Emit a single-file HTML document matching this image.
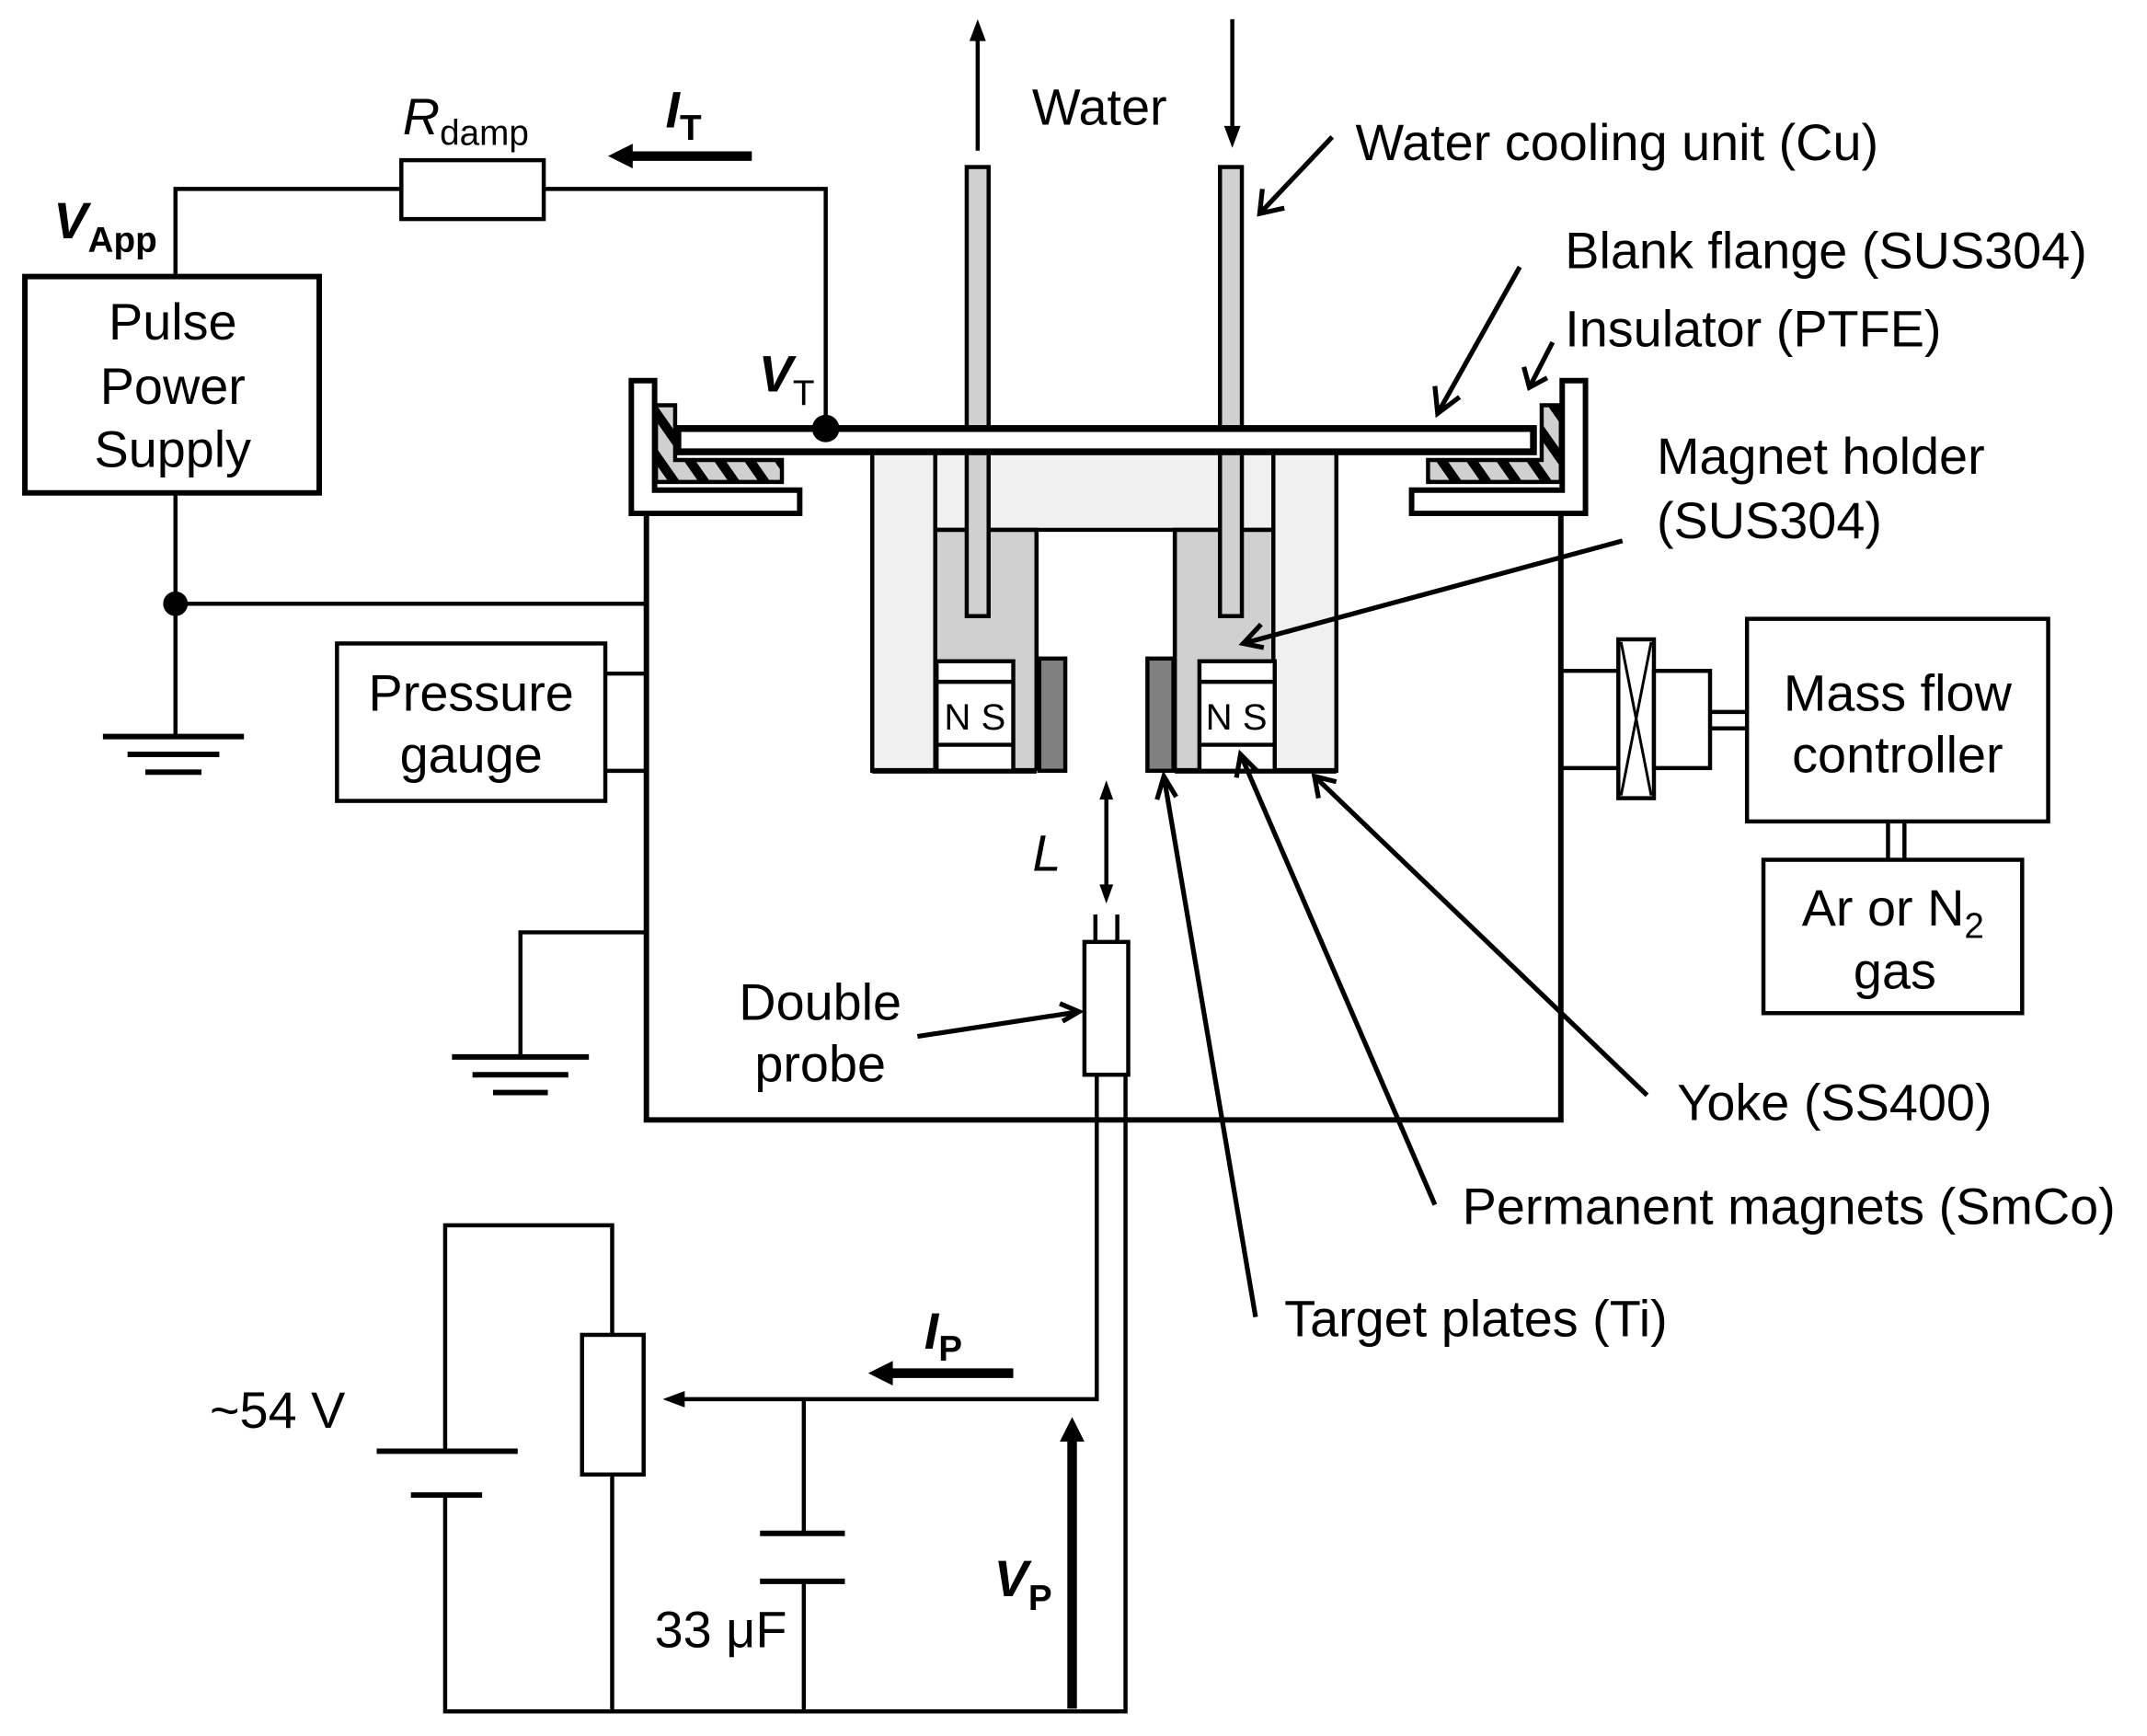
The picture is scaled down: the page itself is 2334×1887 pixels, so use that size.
<!DOCTYPE html>
<html><head><meta charset="utf-8"><style>html,body{margin:0;padding:0;background:#fff}svg{display:block}</style></head><body>
<svg width="2334" height="1887" viewBox="0 0 1568 1268" xmlns="http://www.w3.org/2000/svg" font-family="Liberation Sans, Arial, sans-serif">
<defs>
<pattern id="hatch" width="18" height="18" patternUnits="userSpaceOnUse" patternTransform="rotate(-35)"><rect width="18" height="18" fill="#d0d0d0"/><rect width="7" height="18" fill="#000"/></pattern>
</defs>
<rect width="1568" height="1268" fill="#fff"/>
<g stroke="#000" fill="none" stroke-width="4">
<rect x="637" y="330" width="339" height="233" fill="#f0f0f0" stroke-width="3"/>
<rect x="683" y="387" width="74" height="176" fill="#d0d0d0" stroke-width="3"/>
<rect x="858" y="387" width="72" height="176" fill="#d0d0d0" stroke-width="3"/>
<rect x="757" y="388" width="101" height="178" fill="#fff" stroke="none"/>
<line x1="683" y1="330" x2="683" y2="387" stroke-width="3"/>
<line x1="930" y1="330" x2="930" y2="387" stroke-width="3"/>
<line x1="683" y1="387" x2="930" y2="387" stroke-width="3"/>
<line x1="757" y1="387" x2="757" y2="563" stroke-width="3"/>
<line x1="858" y1="387" x2="858" y2="563" stroke-width="3"/>
<line x1="637" y1="563" x2="757" y2="563" stroke-width="4"/>
<line x1="858" y1="563" x2="976" y2="563" stroke-width="4"/>
<rect x="684" y="483" width="56" height="80" fill="#fff" stroke-width="3"/>
<line x1="684" y1="498" x2="740" y2="498" stroke-width="3"/><line x1="684" y1="544" x2="740" y2="544" stroke-width="3"/>
<rect x="876" y="483" width="55" height="80" fill="#fff" stroke-width="3"/>
<line x1="876" y1="498" x2="931" y2="498" stroke-width="3"/><line x1="876" y1="544" x2="931" y2="544" stroke-width="3"/>
<rect x="759" y="481" width="19" height="82" fill="#808080" stroke-width="3"/>
<rect x="838" y="481" width="19" height="82" fill="#808080" stroke-width="3"/>
<rect x="706" y="122" width="16" height="328" fill="#d0d0d0" stroke-width="3"/>
<rect x="891" y="122" width="16" height="328" fill="#d0d0d0" stroke-width="3"/>
<polyline points="472,375 472,818 1140,818 1140,375"/>
<polygon points="461,278 478,278 478,358 584,358 584,375 461,375" fill="#fff" stroke-width="4"/>
<polygon points="1158,278 1141,278 1141,358 1031,358 1031,375 1158,375" fill="#fff" stroke-width="4"/>
<path d="M479,296 L493,296 L493,336 L571,336 L571,352 L479,352 Z" fill="url(#hatch)" stroke-width="3"/>
<path d="M1140,296 L1126,296 L1126,336 L1043,336 L1043,352 L1140,352 Z" fill="url(#hatch)" stroke-width="3"/>
<rect x="495" y="313" width="625" height="17" fill="#fff" stroke-width="5"/>
<line x1="714" y1="110" x2="714" y2="25" stroke-width="3"/>
<polygon points="714,14 708,30 720,30" fill="#000" stroke="none"/>
<line x1="900" y1="14" x2="900" y2="98" stroke-width="3"/>
<polygon points="900,108 894,92 906,92" fill="#000" stroke="none"/>
<polyline points="128,202 128,138 293,138" stroke-width="3"/>
<rect x="293" y="117" width="104" height="43" fill="#fff" stroke-width="3"/>
<polyline points="397,138 603,138 603,313" stroke-width="3"/>
<circle cx="603" cy="313" r="10" fill="#000" stroke="none"/>
<rect x="18" y="202" width="215" height="158" fill="#fff" stroke-width="4"/>
<line x1="128" y1="360" x2="128" y2="538" stroke-width="3"/>
<circle cx="128" cy="441" r="9" fill="#000" stroke="none"/>
<line x1="128" y1="441" x2="472" y2="441" stroke-width="3"/>
<line x1="75" y1="538" x2="178" y2="538" stroke-width="4"/>
<line x1="93" y1="551" x2="160" y2="551" stroke-width="4"/>
<line x1="106" y1="564" x2="147" y2="564" stroke-width="4"/>
<line x1="549" y1="114" x2="458" y2="114" stroke-width="7"/>
<polygon points="444,114 462,105 462,123" fill="#000" stroke="none"/>
<polyline points="472,681 380,681 380,772" stroke-width="3"/>
<line x1="330" y1="772" x2="430" y2="772" stroke-width="4"/>
<line x1="345" y1="785" x2="415" y2="785" stroke-width="4"/>
<line x1="360" y1="798" x2="400" y2="798" stroke-width="4"/>
<rect x="246" y="470" width="196" height="115" fill="#fff" stroke-width="3"/>
<line x1="442" y1="492" x2="472" y2="492" stroke-width="3"/>
<line x1="442" y1="563" x2="472" y2="563" stroke-width="3"/>
<line x1="1140" y1="490" x2="1182" y2="490" stroke-width="3"/>
<line x1="1140" y1="561" x2="1182" y2="561" stroke-width="3"/>
<rect x="1182" y="467" width="26" height="116" fill="#fff" stroke-width="3"/>
<polyline points="1184,469 1206,581" stroke-width="2"/><polyline points="1206,469 1184,581" stroke-width="2"/>
<rect x="1208" y="490" width="41" height="71" fill="#fff" stroke-width="3"/>
<line x1="1249" y1="520" x2="1276" y2="520" stroke-width="3"/>
<line x1="1249" y1="532" x2="1276" y2="532" stroke-width="3"/>
<rect x="1276" y="452" width="220" height="148" fill="#fff" stroke-width="3"/>
<line x1="1379" y1="600" x2="1379" y2="628" stroke-width="3"/>
<line x1="1391" y1="600" x2="1391" y2="628" stroke-width="3"/>
<rect x="1288" y="628" width="189" height="112" fill="#fff" stroke-width="3"/>
<line x1="800" y1="668" x2="800" y2="688" stroke-width="3"/>
<line x1="816" y1="668" x2="816" y2="688" stroke-width="3"/>
<rect x="792" y="688" width="32" height="97" fill="#fff" stroke-width="3"/>
<line x1="808" y1="580" x2="808" y2="650" stroke-width="3"/>
<polygon points="808,570 803,584 813,584" fill="#000" stroke="none"/>
<polygon points="808,660 803,646 813,646" fill="#000" stroke="none"/>
<polyline points="801,785 801,1022 497,1022" stroke-width="3"/>
<polygon points="484,1022 500,1016 500,1028" fill="#000" stroke="none"/>
<polyline points="822,785 822,1250 325,1250 325,1092" stroke-width="3"/>
<polyline points="325,1060 325,895 447,895 447,975" stroke-width="3"/>
<line x1="275" y1="1060" x2="378" y2="1060" stroke-width="4"/>
<line x1="300" y1="1092" x2="352" y2="1092" stroke-width="4"/>
<rect x="425" y="975" width="45" height="102" fill="#fff" stroke-width="3"/>
<line x1="447" y1="1077" x2="447" y2="1250" stroke-width="3"/>
<line x1="587" y1="1022" x2="587" y2="1120" stroke-width="3"/>
<line x1="555" y1="1120" x2="617" y2="1120" stroke-width="4"/>
<line x1="555" y1="1155" x2="617" y2="1155" stroke-width="4"/>
<line x1="587" y1="1155" x2="587" y2="1250" stroke-width="3"/>
<line x1="740" y1="1003" x2="648" y2="1003" stroke-width="7"/>
<polygon points="634,1003 652,994 652,1012" fill="#000" stroke="none"/>
<line x1="783" y1="1248" x2="783" y2="1050" stroke-width="7"/>
<polygon points="783,1035 774,1053 792,1053" fill="#000" stroke="none"/>
<g stroke-width="3.5">
<line x1="973" y1="100" x2="920" y2="156"/><polyline points="922,138 920,156 938,152"/>
<line x1="1110" y1="195" x2="1050" y2="302"/><polyline points="1048,282 1050,302 1066,290"/>
<line x1="1134" y1="250" x2="1117" y2="283"/><polyline points="1113,268 1117,283 1130,276"/>
<line x1="1185" y1="395" x2="908" y2="470"/><polyline points="921,456 908,470 923,473"/>
<line x1="1203" y1="800" x2="960" y2="567"/><polyline points="963,583 960,567 976,571"/>
<line x1="1048" y1="880" x2="906" y2="551"/><polyline points="903,568 906,551 918,563"/>
<line x1="917" y1="962" x2="850" y2="567"/><polyline points="845,584 850,567 859,582"/>
<line x1="670" y1="757" x2="788" y2="739"/><polyline points="774,733 788,739 776,746"/>
</g>
</g>
<g fill="#000" font-size="37.5">
<text x="803" y="91" text-anchor="middle">Water</text>
<text x="990" y="117">Water cooling unit (Cu)</text>
<text x="1143" y="196">Blank flange (SUS304)</text>
<text x="1143" y="253">Insulator (PTFE)</text>
<text x="1210" y="346">Magnet holder</text>
<text x="1210" y="393">(SUS304)</text>
<text x="1386" y="519" text-anchor="middle">Mass flow</text>
<text x="1386" y="564" text-anchor="middle">controller</text>
<text x="1316" y="676">Ar or N<tspan font-size="26" dy="9">2</tspan></text>
<text x="1384" y="722" text-anchor="middle">gas</text>
<text x="1225" y="818">Yoke (SS400)</text>
<text x="1068" y="894">Permanent magnets (SmCo)</text>
<text x="938" y="976">Target plates (Ti)</text>
<text x="126" y="248" text-anchor="middle">Pulse</text>
<text x="126" y="295" text-anchor="middle">Power</text>
<text x="126" y="341" text-anchor="middle">Supply</text>
<text x="344" y="519" text-anchor="middle">Pressure</text>
<text x="344" y="564" text-anchor="middle">gauge</text>
<text x="599" y="745" text-anchor="middle">Double</text>
<text x="599" y="790" text-anchor="middle">probe</text>
<text x="153" y="1043">~54 V</text>
<text x="478" y="1203">33 μF</text>
<text x="754" y="636" font-style="italic">L</text>
<text x="294" y="98" font-style="italic">R<tspan font-style="normal" font-size="26" dy="8">damp</tspan></text>
<text x="486" y="93" font-style="italic" font-weight="bold">I<tspan font-style="normal" font-size="26" dy="9">T</tspan></text>
<text x="39" y="174" font-style="italic" font-weight="bold">V<tspan font-style="normal" font-size="26" dy="10">App</tspan></text>
<text x="554" y="286" font-style="italic" font-weight="bold">V<tspan font-style="normal" font-weight="normal" font-size="26" dy="10">T</tspan></text>
<text x="675" y="985" font-style="italic" font-weight="bold">I<tspan font-style="normal" font-size="26" dy="9">P</tspan></text>
<text x="726" y="1166" font-style="italic" font-weight="bold">V<tspan font-style="normal" font-size="26" dy="10">P</tspan></text>
<text x="712" y="533" font-size="27" text-anchor="middle">N S</text>
<text x="903" y="533" font-size="27" text-anchor="middle">N S</text>
</g>
</svg>
</body></html>
